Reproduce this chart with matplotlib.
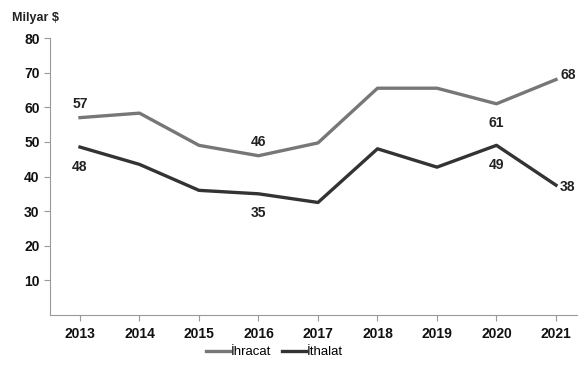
import numpy as np
import matplotlib.pyplot as plt

plt.rcParams['font.family'] = ['Liberation Sans', 'DejaVu Sans']

years = ['2013', '2014', '2015', '2016', '2017', '2018', '2019', '2020', '2021']
ihracat = [57, 58.3, 49, 46, 49.7, 65.5, 65.5, 61, 68]
ithalat = [48.5, 43.5, 36, 35, 32.5, 48, 42.7, 49, 37.5]

# which points get a value label: (index, text, dx, dy in points, ha)
ihr_labels = [(0, '57', 0, 10, 'center'), (3, '46', 0, 10, 'center'),
              (7, '61', 0, -14, 'center'), (8, '68', 3, 3, 'left')]
ith_labels = [(0, '48', 0, -14, 'center'), (3, '35', 0, -14, 'center'),
              (7, '49', 0, -14, 'center'), (8, '38', 3, -1, 'left')]

fig = plt.figure(figsize=(5.78, 3.88), dpi=100)
ax = fig.add_axes([50 / 578, 1 - 315 / 388, 528 / 578, (315 - 38) / 388])

x = np.arange(len(years))
ax.plot(x, ihracat, color='#777777', lw=2.4, label='İhracat')
ax.plot(x, ithalat, color='#333333', lw=2.4, label='İthalat')

for i, t, dx, dy, ha in ihr_labels:
    ax.annotate(t, (x[i], ihracat[i]), xytext=(dx, dy), textcoords='offset points',
                ha=ha, va='center', fontsize=10, fontweight='bold', color='#222222')
for i, t, dx, dy, ha in ith_labels:
    ax.annotate(t, (x[i], ithalat[i]), xytext=(dx, dy), textcoords='offset points',
                ha=ha, va='center', fontsize=10, fontweight='bold', color='#222222')

ax.set_xlim(-0.504, 8.37)
ax.set_ylim(0, 80)
ax.set_xticks(x)
ax.set_xticklabels(years, fontsize=10, fontweight='bold')
ax.set_yticks(range(10, 81, 10))
ax.set_yticklabels([str(v) for v in range(10, 81, 10)], fontsize=10, fontweight='bold')

for s in ['top', 'right']:
    ax.spines[s].set_visible(False)
for s in ['left', 'bottom']:
    ax.spines[s].set_color('#999999')
ax.tick_params(axis='both', colors='#999999', labelcolor='#111111', length=4)
ax.tick_params(axis='x', pad=5)

fig.text(12 / 578, 1 - 18 / 388, 'Milyar $', fontsize=9, fontweight='bold',
         va='center', ha='left', color='#222222')

fig.legend(loc='center', bbox_to_anchor=(0.475, 1 - 352 / 388), ncol=2, frameon=False,
           fontsize=9.5, handlelength=1.8, handletextpad=0.1, columnspacing=0.8)

fig.savefig('out.png', dpi=100)
